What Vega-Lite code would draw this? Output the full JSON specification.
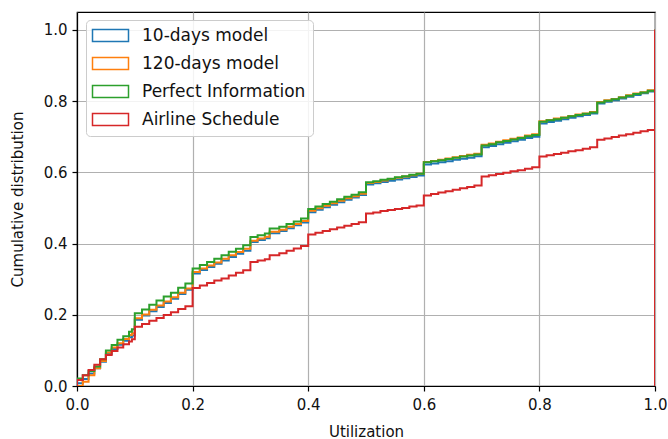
{
  "$schema": "https://vega.github.io/schema/vega-lite/v6.json",
  "width": 578,
  "height": 374,
  "autosize": {"type": "none"},
  "padding": {"left": 77, "top": 12, "right": 13, "bottom": 53},
  "background": "white",
  "data": {
    "values": [
      {"i":0,"x":0,"b":0,"o":0,"g":0,"r":0},
      {"i":1,"x":0,"b":0.008,"o":0.0,"g":0.021,"r":0.017},
      {"i":2,"x":0.01,"b":0.02,"o":0.012,"g":0.03,"r":0.03},
      {"i":3,"x":0.02,"b":0.035,"o":0.03,"g":0.042,"r":0.045},
      {"i":4,"x":0.03,"b":0.05,"o":0.05,"g":0.055,"r":0.06},
      {"i":5,"x":0.04,"b":0.068,"o":0.07,"g":0.075,"r":0.075},
      {"i":6,"x":0.05,"b":0.09,"o":0.094,"g":0.1,"r":0.087},
      {"i":7,"x":0.06,"b":0.104,"o":0.108,"g":0.115,"r":0.098},
      {"i":8,"x":0.07,"b":0.116,"o":0.12,"g":0.13,"r":0.108},
      {"i":9,"x":0.08,"b":0.127,"o":0.132,"g":0.14,"r":0.117},
      {"i":10,"x":0.09,"b":0.137,"o":0.143,"g":0.152,"r":0.125},
      {"i":11,"x":0.095,"b":0.142,"o":0.148,"g":0.159,"r":0.131},
      {"i":12,"x":0.1,"b":0.186,"o":0.19,"g":0.204,"r":0.166},
      {"i":13,"x":0.1125,"b":0.198,"o":0.201,"g":0.215,"r":0.174},
      {"i":14,"x":0.125,"b":0.21,"o":0.214,"g":0.228,"r":0.183},
      {"i":15,"x":0.1375,"b":0.222,"o":0.226,"g":0.24,"r":0.191},
      {"i":16,"x":0.15,"b":0.233,"o":0.237,"g":0.251,"r":0.199},
      {"i":17,"x":0.1625,"b":0.245,"o":0.249,"g":0.262,"r":0.207},
      {"i":18,"x":0.175,"b":0.258,"o":0.262,"g":0.276,"r":0.216},
      {"i":19,"x":0.1875,"b":0.27,"o":0.274,"g":0.288,"r":0.224},
      {"i":20,"x":0.2,"b":0.316,"o":0.32,"g":0.33,"r":0.275},
      {"i":21,"x":0.2125,"b":0.326,"o":0.33,"g":0.34,"r":0.282},
      {"i":22,"x":0.225,"b":0.334,"o":0.338,"g":0.348,"r":0.289},
      {"i":23,"x":0.2375,"b":0.343,"o":0.347,"g":0.357,"r":0.296},
      {"i":24,"x":0.25,"b":0.352,"o":0.357,"g":0.367,"r":0.302},
      {"i":25,"x":0.2625,"b":0.362,"o":0.367,"g":0.377,"r":0.31},
      {"i":26,"x":0.275,"b":0.371,"o":0.376,"g":0.385,"r":0.318},
      {"i":27,"x":0.2875,"b":0.38,"o":0.385,"g":0.395,"r":0.325},
      {"i":28,"x":0.3,"b":0.404,"o":0.408,"g":0.418,"r":0.348},
      {"i":29,"x":0.3125,"b":0.41,"o":0.414,"g":0.423,"r":0.352},
      {"i":30,"x":0.325,"b":0.415,"o":0.419,"g":0.428,"r":0.356},
      {"i":31,"x":0.3333,"b":0.429,"o":0.433,"g":0.442,"r":0.367},
      {"i":32,"x":0.35,"b":0.435,"o":0.439,"g":0.447,"r":0.373},
      {"i":33,"x":0.3625,"b":0.443,"o":0.447,"g":0.455,"r":0.38},
      {"i":34,"x":0.375,"b":0.451,"o":0.455,"g":0.462,"r":0.386},
      {"i":35,"x":0.3875,"b":0.459,"o":0.463,"g":0.47,"r":0.393},
      {"i":36,"x":0.4,"b":0.488,"o":0.492,"g":0.497,"r":0.425},
      {"i":37,"x":0.4125,"b":0.495,"o":0.499,"g":0.504,"r":0.43},
      {"i":38,"x":0.425,"b":0.502,"o":0.506,"g":0.511,"r":0.435},
      {"i":39,"x":0.4375,"b":0.509,"o":0.513,"g":0.517,"r":0.44},
      {"i":40,"x":0.45,"b":0.516,"o":0.52,"g":0.524,"r":0.445},
      {"i":41,"x":0.4625,"b":0.523,"o":0.527,"g":0.531,"r":0.45},
      {"i":42,"x":0.475,"b":0.529,"o":0.533,"g":0.537,"r":0.455},
      {"i":43,"x":0.4875,"b":0.536,"o":0.54,"g":0.544,"r":0.46},
      {"i":44,"x":0.5,"b":0.566,"o":0.57,"g":0.572,"r":0.484},
      {"i":45,"x":0.5125,"b":0.569,"o":0.573,"g":0.575,"r":0.487},
      {"i":46,"x":0.525,"b":0.573,"o":0.577,"g":0.579,"r":0.491},
      {"i":47,"x":0.5375,"b":0.576,"o":0.581,"g":0.582,"r":0.494},
      {"i":48,"x":0.55,"b":0.58,"o":0.585,"g":0.586,"r":0.497},
      {"i":49,"x":0.5625,"b":0.583,"o":0.588,"g":0.589,"r":0.5},
      {"i":50,"x":0.575,"b":0.587,"o":0.592,"g":0.593,"r":0.504},
      {"i":51,"x":0.5875,"b":0.591,"o":0.596,"g":0.596,"r":0.507},
      {"i":52,"x":0.6,"b":0.622,"o":0.629,"g":0.628,"r":0.535},
      {"i":53,"x":0.6125,"b":0.625,"o":0.632,"g":0.631,"r":0.539},
      {"i":54,"x":0.625,"b":0.628,"o":0.635,"g":0.634,"r":0.543},
      {"i":55,"x":0.6375,"b":0.631,"o":0.639,"g":0.637,"r":0.547},
      {"i":56,"x":0.65,"b":0.635,"o":0.642,"g":0.641,"r":0.551},
      {"i":57,"x":0.6625,"b":0.638,"o":0.646,"g":0.644,"r":0.555},
      {"i":58,"x":0.675,"b":0.641,"o":0.649,"g":0.647,"r":0.559},
      {"i":59,"x":0.6875,"b":0.645,"o":0.652,"g":0.65,"r":0.563},
      {"i":60,"x":0.7,"b":0.67,"o":0.677,"g":0.675,"r":0.588},
      {"i":61,"x":0.7125,"b":0.674,"o":0.681,"g":0.679,"r":0.592},
      {"i":62,"x":0.725,"b":0.679,"o":0.686,"g":0.684,"r":0.595},
      {"i":63,"x":0.7375,"b":0.683,"o":0.69,"g":0.688,"r":0.599},
      {"i":64,"x":0.75,"b":0.687,"o":0.694,"g":0.692,"r":0.603},
      {"i":65,"x":0.7625,"b":0.691,"o":0.698,"g":0.696,"r":0.606},
      {"i":66,"x":0.775,"b":0.696,"o":0.703,"g":0.701,"r":0.61},
      {"i":67,"x":0.7875,"b":0.7,"o":0.707,"g":0.705,"r":0.614},
      {"i":68,"x":0.8,"b":0.737,"o":0.743,"g":0.742,"r":0.644},
      {"i":69,"x":0.8125,"b":0.741,"o":0.747,"g":0.746,"r":0.648},
      {"i":70,"x":0.825,"b":0.745,"o":0.751,"g":0.749,"r":0.651},
      {"i":71,"x":0.8375,"b":0.749,"o":0.754,"g":0.753,"r":0.655},
      {"i":72,"x":0.85,"b":0.753,"o":0.758,"g":0.757,"r":0.659},
      {"i":73,"x":0.8625,"b":0.757,"o":0.762,"g":0.761,"r":0.662},
      {"i":74,"x":0.875,"b":0.761,"o":0.765,"g":0.764,"r":0.666},
      {"i":75,"x":0.8875,"b":0.765,"o":0.769,"g":0.768,"r":0.67},
      {"i":76,"x":0.9,"b":0.793,"o":0.797,"g":0.796,"r":0.691},
      {"i":77,"x":0.9125,"b":0.798,"o":0.802,"g":0.801,"r":0.695},
      {"i":78,"x":0.925,"b":0.802,"o":0.806,"g":0.805,"r":0.699},
      {"i":79,"x":0.9375,"b":0.807,"o":0.811,"g":0.81,"r":0.703},
      {"i":80,"x":0.95,"b":0.812,"o":0.816,"g":0.815,"r":0.707},
      {"i":81,"x":0.9625,"b":0.817,"o":0.821,"g":0.82,"r":0.711},
      {"i":82,"x":0.975,"b":0.822,"o":0.825,"g":0.824,"r":0.715},
      {"i":83,"x":0.9875,"b":0.827,"o":0.83,"g":0.829,"r":0.719},
      {"i":84,"x":1,"b":1,"o":1,"g":1,"r":1},
      {"i":85,"x":1,"b":0,"o":0,"g":0,"r":0}
    ]
  },
  "transform": [{"fold": ["b", "o", "g", "r"], "as": ["s", "y"]}],
  "mark": {"type": "line", "interpolate": "step-after", "strokeWidth": 2, "clip": true},
  "encoding": {
    "x": {
      "field": "x", "type": "quantitative",
      "scale": {"domain": [0, 1], "nice": false, "zero": false},
      "axis": {"values": [0, 0.2, 0.4, 0.6, 0.8, 1], "format": ".1f", "title": "Utilization"}
    },
    "y": {
      "field": "y", "type": "quantitative",
      "scale": {"domain": [0, 1.05], "nice": false, "zero": false},
      "axis": {"values": [0, 0.2, 0.4, 0.6, 0.8, 1], "format": ".1f", "title": "Cumulative distribution"}
    },
    "color": {
      "field": "s", "type": "nominal",
      "scale": {"domain": ["b", "o", "g", "r"], "range": ["#1f77b4", "#ff7f0e", "#2ca02c", "#d62728"]},
      "legend": {
        "title": null,
        "orient": "none",
        "legendX": 9,
        "legendY": 8,
        "labelExpr": "{'b': '10-days model', 'o': '120-days model', 'g': 'Perfect Information', 'r': 'Airline Schedule'}[datum.label]"
      }
    },
    "order": {"field": "i", "type": "quantitative"}
  },
  "config": {
    "font": "DejaVu Sans",
    "view": {"stroke": "black", "strokeWidth": 1.2},
    "axis": {
      "grid": true,
      "gridColor": "#b0b0b0",
      "gridWidth": 1.2,
      "domainColor": "black",
      "domainWidth": 1.2,
      "tickColor": "black",
      "tickWidth": 1.2,
      "tickSize": 5,
      "labelFont": "DejaVu Sans",
      "labelFontSize": 15,
      "labelColor": "#111",
      "labelPadding": 5,
      "titleFont": "DejaVu Sans",
      "titleFontSize": 15,
      "titleFontWeight": "normal",
      "titleColor": "#111"
    },
    "axisX": {"titlePadding": 12, "labelPadding": 6, "labelFlush": false},
    "axisY": {"titlePadding": 18},
    "legend": {
      "symbolType": "M-3.6,-1.2L3.6,-1.2L3.6,1.2L-3.6,1.2Z",
      "symbolSize": 100,
      "symbolStrokeWidth": 1.5,
      "symbolFillColor": "white",
      "symbolOffset": 9,
      "labelFont": "DejaVu Sans",
      "labelFontSize": 17,
      "labelColor": "#111",
      "labelLimit": 300,
      "labelOffset": 23,
      "rowPadding": 9,
      "padding": 7,
      "strokeColor": "#cccccc",
      "fillColor": "rgba(255,255,255,0.85)",
      "cornerRadius": 4
    }
  }
}
